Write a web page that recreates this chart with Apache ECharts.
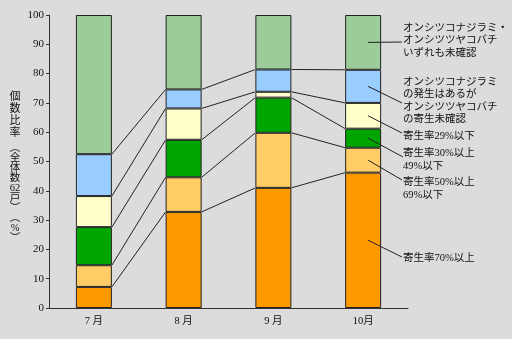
<!DOCTYPE html>
<html><head><meta charset="utf-8">
<script src="https://cdn.jsdelivr.net/npm/echarts@6/dist/echarts.min.js"></script>
<style>html,body{margin:0;padding:0;background:#dcdcdc}#c{width:512px;height:339px}</style>
</head><body><div id="c"></div>
<script>
const categories = ['7 月', '8 月', '9 月', '10月'];
const yTicks = [0, 10, 20, 30, 40, 50, 60, 70, 80, 90, 100];
const seriesNames = ['寄生率70%以上', '寄生率50%以上\n69%以下', '寄生率30%以上\n49%以下', '寄生率29%以下',
  'オンシツコナジラミ\nの発生はあるが\nオンシツツヤコバチ\nの寄生未確認', 'オンシツコナジラミ・\nオンシツツヤコバチ\nいずれも未確認'];
const s70 = [7.2, 32.8, 41.0, 46.2];
const s50 = [7.4, 11.8, 18.8, 8.5];
const s30 = [13.0, 12.8, 12.0, 6.5];
const s29 = [10.6, 10.7, 2.0, 8.8];
const sUnpar = [14.3, 6.5, 7.6, 11.3];
const sNone = [47.5, 25.4, 18.6, 18.7];
const yAxisTitleA = ['個','数','比','率'];
const yAxisTitleB = ['︵','全','体','数','62','戸','︶','︵','%','︶'];

const colors = ['#ff9900', '#ffcc66', '#00a600', '#ffffcc', '#99ccff', '#9ccc9a'];
const allSeries = [s70, s50, s30, s29, sUnpar, sNone];
const barW = 36;
const FONT = '"Liberation Serif", "DejaVu Serif", "Noto Sans CJK JP", serif';
const LH = 12.5;

const cum = categories.map((_, i) => {
  let acc = 0; const r = [0];
  allSeries.forEach(s => { acc += s[i]; r.push(acc); });
  return r;
});
const connData = [];
for (let i = 0; i < categories.length - 1; i++) {
  for (let k = 1; k <= 5; k++) connData.push([i, cum[i][k], cum[i + 1][k]]);
}
const last = categories.length - 1;
const annData = allSeries.map((s, k) => [last, (cum[last][k] + cum[last][k + 1]) / 2, k]);
// label layout: leader end point and first-line centre of the text
const labelLayout = [
  { ex: 402, ey: 257, tx: 403, ty: 258 },
  { ex: 402, ey: 180, tx: 403, ty: 182.5 },
  { ex: 403, ey: 157, tx: 403, ty: 153.5 },
  { ex: 402, ey: 133, tx: 403, ty: 136 },
  { ex: 402, ey: 103, tx: 403, ty: 82 },
  { ex: 402, ey: 42, tx: 403, ty: 28 }
];

const chart = echarts.init(document.getElementById('c'), null, { renderer: 'canvas' });
const series = allSeries.map((s, k) => ({
  type: 'bar', name: seriesNames[k], stack: 'a', data: s, barWidth: barW,
  itemStyle: { color: colors[k], borderColor: '#222', borderWidth: 1 },
  silent: true, animation: false
}));
series.push({
  type: 'custom', data: connData, encode: { x: 0, y: [1, 2] }, z: 5, animation: false, silent: true,
  renderItem: function (params, api) {
    const p1 = api.coord([api.value(0), api.value(1)]);
    const p2 = api.coord([api.value(0) + 1, api.value(2)]);
    return { type: 'line', shape: { x1: p1[0] + barW / 2, y1: p1[1], x2: p2[0] - barW / 2, y2: p2[1] },
      style: { stroke: '#222', lineWidth: 1 } };
  }
});
series.push({
  type: 'custom', data: annData, encode: { x: 0, y: 1 }, z: 6, animation: false, silent: true,
  renderItem: function (params, api) {
    const p = api.coord([api.value(0), api.value(1)]);
    const k = api.value(2);
    const L = labelLayout[k];
    return { type: 'group', children: [
      { type: 'line', shape: { x1: p[0] + 5, y1: p[1], x2: L.ex, y2: L.ey }, style: { stroke: '#222', lineWidth: 1 } },
      { type: 'text', x: L.tx, y: L.ty - LH / 2, style: { text: seriesNames[k], fill: '#111', font: '10.5px ' + FONT,
        lineHeight: LH, verticalAlign: 'top', align: 'left' } }
    ] };
  }
});

chart.setOption({
  backgroundColor: '#dcdcdc',
  animation: false,
  grid: { left: 49, right: 104, top: 15, bottom: 31 },
  xAxis: {
    type: 'category', data: categories,
    axisLine: { lineStyle: { color: '#333', width: 1 } },
    axisTick: { show: false },
    axisLabel: { color: '#111', fontSize: 10.5, fontFamily: FONT, margin: 8 }
  },
  yAxis: {
    type: 'value', min: yTicks[0], max: yTicks[yTicks.length - 1], interval: 10,
    axisLine: { show: true, lineStyle: { color: '#333', width: 1 } },
    axisTick: { show: true, length: 3, lineStyle: { color: '#333' } },
    splitLine: { show: false },
    axisLabel: { color: '#111', fontSize: 11, fontFamily: FONT, margin: 5 }
  },
  graphic: [{
    type: 'text', x: 15, y: 91,
    style: { text: yAxisTitleA.join('\n'), fill: '#111', font: '11px ' + FONT, lineHeight: 12, align: 'center', verticalAlign: 'top' }
  }, {
    type: 'text', x: 15, y: 143,
    style: { text: yAxisTitleB.join('\n'), fill: '#111', font: '10.5px ' + FONT, lineHeight: 10, align: 'center', verticalAlign: 'top' }
  }],
  series: series
});
</script></body></html>
